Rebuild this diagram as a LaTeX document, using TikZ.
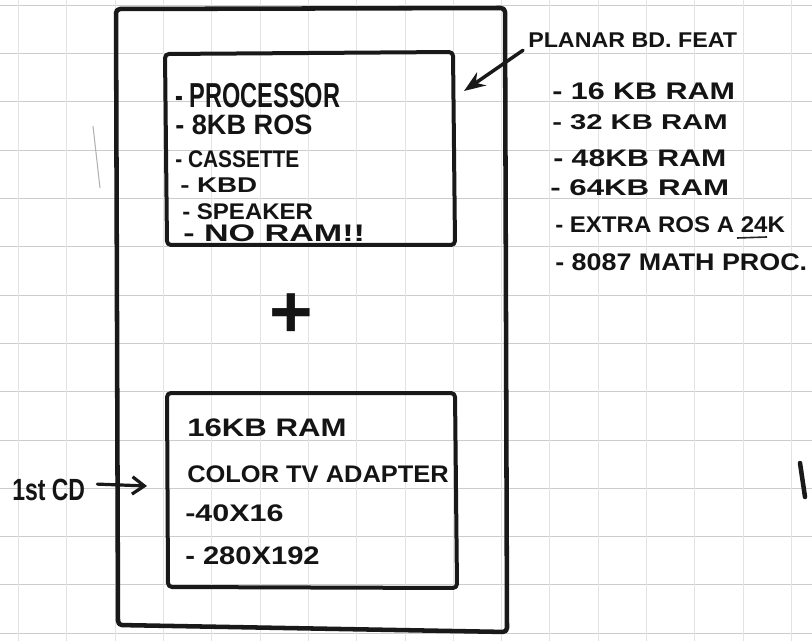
\documentclass[tikz,border=0pt]{standalone}
\usepackage{fontspec}
\setmainfont{Liberation Sans}
\usetikzlibrary{arrows.meta}
\newcommand\tx[3]{\scalebox{#2}[1]{\fontsize{#1}{#1}\selectfont\bfseries #3}}
\tikzset{
  lbl/.style={anchor=base west, inner sep=0pt, text=black!92},
  boxline/.style={line width=3pt, line join=round, rounded corners=3pt, black!90},
  hgrid/.style={gray!40, line width=0.5pt},
  vgrid/.style={gray!22, line width=0.5pt},
  pen/.style={line width=2.4pt, black!90, line cap=round},
}
\begin{document}
\begin{tikzpicture}[x=0.75pt, y=-0.75pt]
\useasboundingbox (0,0) rectangle (812,641);
% graph paper
\foreach \k in {0,...,13} \draw[hgrid] (0,{5.2+48.3*\k}) -- (812,{5.2+48.3*\k});
\foreach \k in {0,...,16} \draw[vgrid] ({18.5+48.3*\k},0) -- ({18.5+48.3*\k},641);
\draw[gray!60, line width=0.8pt] (93,126) -- (100,188);
% planar board (outer)
\draw[boxline, line width=3.4pt] (116,9) -- (505,8) -- (507,632) -- (118,625) -- cycle;
% inner boxes
\draw[boxline] (165,54) -- (453,52) -- (455,245) -- (167,245) -- cycle;
\draw[boxline] (167,393) -- (455,393) -- (457,588) -- (168,587) -- cycle;
% processor box text
\node[lbl] (p1) at (175,108) {\tx{26}{0.68}{- PROCESSOR}};
\node[lbl] (p2) at (175,135) {\tx{21}{0.97}{- 8KB ROS}};
\node[lbl] (p3) at (175,168) {\tx{18}{0.87}{- CASSETTE}};
\node[lbl] (p4) at (180,193) {\tx{16}{1.30}{- KBD}};
\node[lbl] (p5) at (182,220) {\tx{17}{1.06}{- SPEAKER}};
\node[lbl] (p6) at (183,242) {\tx{18}{1.42}{- NO RAM!!}};
% plus
\node[inner sep=0pt, text=black!92] (plus) at (291,316) {\fontsize{56}{56}\selectfont\bfseries +};
% memory / adapter box text
\node[lbl] (m1) at (187,436) {\tx{19}{1.23}{16KB RAM}};
\node[lbl] (m2) at (187,482) {\tx{18}{1.06}{COLOR TV ADAPTER}};
\node[lbl] (m3) at (185,521) {\tx{18}{1.27}{-40X16}};
\node[lbl] (m4) at (185,564) {\tx{19}{1.15}{- 280X192}};
% first cd
\node[lbl] (cd) at (12,500) {\tx{23}{0.75}{1st CD}};
\coordinate (cdtip) at (147,486);
\draw[pen, -{Straight Barb[length=9pt, width=13pt, line width=2.4pt]}] ([xshift=9pt, yshift=4pt]cd.east) -- (cdtip);
% planar features
\node[lbl] (pl) at (528,48) {\tx{16}{1.09}{PLANAR BD. FEAT}};
\coordinate (pltip) at (464,91);
\draw[pen, line width=2.6pt, -{Stealth[length=16pt, width=12pt]}] ([shift={(-5,2)}]pl.south west) -- (pltip);
\node[lbl] (f1) at (552,100) {\tx{18}{1.27}{- 16 KB RAM}};
\node[lbl] (f2) at (552,130) {\tx{16}{1.37}{- 32 KB RAM}};
\node[lbl] (f3) at (553,167) {\tx{18}{1.26}{- 48KB RAM}};
\node[lbl] (f4) at (550,196) {\tx{17}{1.38}{- 64KB RAM}};
\node[lbl] (f5) at (555,233) {\tx{17}{1.06}{- EXTRA ROS A 24K}};
\node[lbl] (f6) at (555,270) {\tx{18}{1.12}{- 8087 MATH PROC.}};
\draw[line width=1.2pt, black!85] (737,238) -- (767,237);
% stray stroke at right edge
\draw[pen, line width=3.4pt] (800,463) -- (805,497);
\end{tikzpicture}
\end{document}
